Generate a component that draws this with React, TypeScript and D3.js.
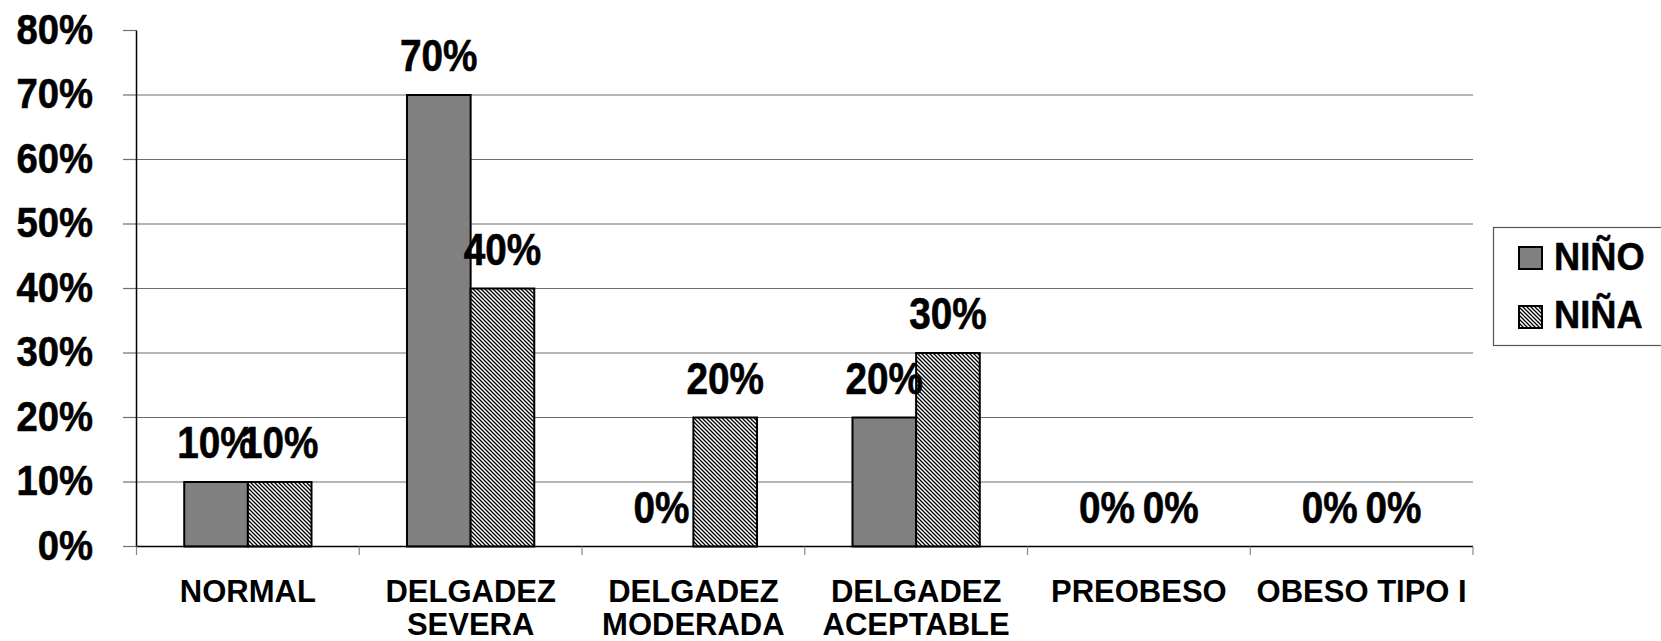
import React from "react";
import * as d3 from "d3";

const categories = ["NORMAL", "DELGADEZ\nSEVERA", "DELGADEZ\nMODERADA", "DELGADEZ\nACEPTABLE", "PREOBESO", "OBESO TIPO I"];
const seriesNames = ["NIÑO", "NIÑA"];
const nino = [0.1, 0.7, 0, 0.2, 0, 0];
const nina = [0.1, 0.4, 0.2, 0.3, 0, 0];
const yTicks = [0, 0.1, 0.2, 0.3, 0.4, 0.5, 0.6, 0.7, 0.8];

const W = 1661;
const H = 641;
const left = 136.5;
const right = 1473;
const top = 30.5;
const bottom = 546.5;
const FONT = "'Liberation Sans', Arial, Helvetica, sans-serif";

export default function App() {
  const x = d3.scaleBand<string>().domain(categories).range([left, right]).padding(0);
  const xs = d3
    .scaleBand<string>()
    .domain(seriesNames)
    .range([0, x.bandwidth()])
    .paddingInner(0)
    .paddingOuter(0.75);
  const y = d3.scaleLinear().domain([0, 0.8]).range([bottom, top]);
  const fmt = d3.format(".0%");
  const series = [
    { name: seriesNames[0], values: nino, fill: "#808080" },
    { name: seriesNames[1], values: nina, fill: "url(#hatch)" },
  ];
  const boundaries = categories.map((c) => x(c)!).concat([right]);

  return (
    <svg
      width={W}
      height={H}
      style={{ position: "absolute", left: 0, top: 0, background: "#fff" }}
      fontFamily={FONT}
    >
      <defs>
        <pattern id="hatch" width={4} height={4} patternUnits="userSpaceOnUse">
          <rect width={4} height={4} fill="#fff" />
          <path d="M-1,-1 L5,5 M-1,3 L1,5 M3,-1 L5,1" stroke="#000" strokeWidth={1.3} />
        </pattern>
      </defs>

      {/* gridlines */}
      {yTicks
        .filter((t) => t > 0 && t < 0.8)
        .map((t) => (
          <line key={"g" + t} x1={left} x2={right} y1={y(t)} y2={y(t)} stroke="#6e6e6e" strokeWidth={1.2} />
        ))}

      {/* y ticks */}
      {yTicks.map((t) => (
        <g key={"yt" + t}>
          <line x1={123} x2={left} y1={y(t)} y2={y(t)} stroke="#6e6e6e" strokeWidth={1.2} />
          <text
            transform={`translate(93,${y(t) + 13}) scale(0.89,1)`}
            textAnchor="end"
            fontSize={43}
            fontWeight="bold"
            fill="#000"
            stroke="#000"
            strokeWidth={0.6}
          >
            {fmt(t)}
          </text>
        </g>
      ))}

      {/* bars */}
      {series.map((s) =>
        s.values.map((v, i) =>
          v > 0 ? (
            <rect
              key={s.name + i}
              x={x(categories[i])! + xs(s.name)!}
              y={y(v)}
              width={xs.bandwidth()}
              height={y(0) - y(v)}
              fill={s.fill}
              stroke="#000"
              strokeWidth={2}
            />
          ) : null
        )
      )}

      {/* axes */}
      <line x1={left} x2={left} y1={top} y2={bottom} stroke="#000" strokeWidth={1.5} />
      <line x1={left} x2={right} y1={bottom} y2={bottom} stroke="#000" strokeWidth={1.5} />
      {boundaries.map((bx, i) => (
        <line key={"xt" + i} x1={bx} x2={bx} y1={bottom} y2={555} stroke="#8a8a8a" strokeWidth={1.2} />
      ))}

      {/* data labels */}
      {series.map((s) =>
        s.values.map((v, i) => (
          <text
            key={"l" + s.name + i}
            transform={`translate(${x(categories[i])! + xs(s.name)! + xs.bandwidth() / 2},${y(v) - 24}) scale(0.88,1)`}
            textAnchor="middle"
            fontSize={44}
            fontWeight="bold"
            fill="#000"
            stroke="#000"
            strokeWidth={0.6}
          >
            {fmt(v)}
          </text>
        ))
      )}

      {/* category labels */}
      {categories.map((c) => (
        <text
          key={"c" + c}
          x={x(c)! + x.bandwidth() / 2}
          y={602}
          textAnchor="middle"
          fontSize={31}
          fontWeight="bold"
          fill="#000"
        >
          {c.split("\n").map((line, j) => (
            <tspan key={j} x={x(c)! + x.bandwidth() / 2} dy={j === 0 ? 0 : 33}>
              {line}
            </tspan>
          ))}
        </text>
      ))}

      {/* legend */}
      <rect x={1493.5} y={227.5} width={170} height={118} fill="#fff" stroke="#555" strokeWidth={1.2} />
      {series.map((s, i) => (
        <g key={"lg" + s.name}>
          <rect
            x={1519}
            y={247 + i * 59}
            width={23}
            height={22}
            fill={s.fill}
            stroke="#000"
            strokeWidth={2}
          />
          <text
            transform={`translate(1554,${270 + i * 57.5}) scale(0.93,1)`}
            fontSize={39}
            fontWeight="bold"
            fill="#000"
            stroke="#000"
            strokeWidth={0.5}
          >
            {s.name}
          </text>
        </g>
      ))}
    </svg>
  );
}
